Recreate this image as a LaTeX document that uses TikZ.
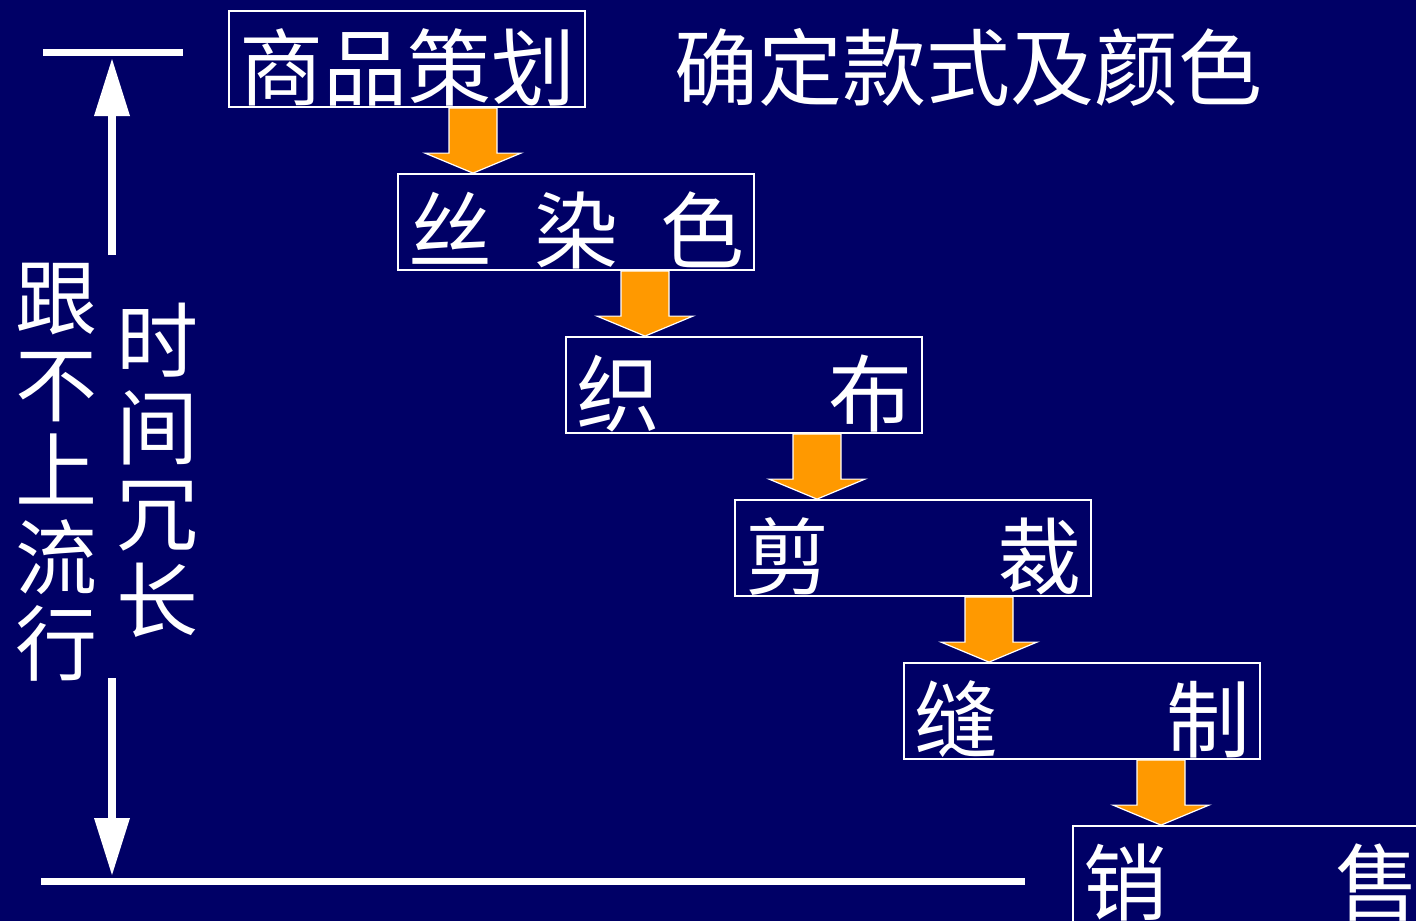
\documentclass[tikz,border=0pt]{standalone}
\usepackage{fontspec}
\newfontfamily\cjk{Noto Sans CJK SC}
\usetikzlibrary{calc}
\definecolor{bg}{HTML}{000066}
\definecolor{org}{HTML}{FF9900}
\tikzset{
  stagebox/.style={draw=white, line width=1.8pt, minimum width=356pt, minimum height=96pt,
    inner xsep=10pt, inner ysep=0pt, text=white, font=\cjk\fontsize{84}{84}\selectfont,
    text height=81pt, text depth=0pt},
  flowarrow/.style={fill=org, draw=white, line width=1.2pt, line join=miter},
  sidetext/.style={text=white, font=\cjk\fontsize{82}{86.5}\selectfont, align=center, inner sep=0pt},
  goaltext/.style={text=white, font=\cjk\fontsize{84}{84}\selectfont, inner sep=0pt},
  whitebar/.style={draw=white, line width=7pt},
  whiteshaft/.style={draw=white, line width=8pt},
}
\newcommand\stagearrow[3]{\draw[flowarrow] let \p1=(#1.south), \p2=(#2.north) in
  ({#3pt-24pt},\y1) -- ({#3pt+24pt},\y1) -- ({#3pt+24pt},\y2+20pt) -- ({#3pt+48pt},\y2+20pt)
  -- (#3pt,\y2) -- ({#3pt-48pt},\y2+20pt) -- ({#3pt-24pt},\y2+20pt) -- cycle;}
\begin{document}
\begin{tikzpicture}[x=1pt,y=-1pt]
\clip (0,0) rectangle (1416,921);
\fill[bg] (0,0) rectangle (1416,921);
% stage boxes
\node[stagebox] (b1) at (407,59)  {\makebox[336pt]{商\hfill 品\hfill 策\hfill 划}};
\node[stagebox] (b2) at (576,222) {\makebox[336pt]{丝\hfill 染\hfill 色}};
\node[stagebox] (b3) at (744,385) {\makebox[336pt]{织\hfill 布}};
\node[stagebox] (b4) at (913,548) {\makebox[336pt]{剪\hfill 裁}};
\node[stagebox] (b5) at (1082,711) {\makebox[336pt]{缝\hfill 制}};
\node[stagebox] (b6) at (1251,874) {\makebox[336pt]{销\hfill 售}};
% goal text
\node[goaltext, anchor=base west] (goal) at (674,99) {确定款式及颜色};
% orange block arrows
\stagearrow{b1}{b2}{473}
\stagearrow{b2}{b3}{645}
\stagearrow{b3}{b4}{817}
\stagearrow{b4}{b5}{989}
\stagearrow{b5}{b6}{1161}
% left scale
\coordinate (topL) at (43,52);
\coordinate (topR) at (183,52);
\coordinate (botL) at (41,881);
\coordinate (botR) at (1025,881);
\draw[whitebar] (topL) -- (topR);
\draw[whitebar] (botL) -- (botR);
\coordinate (upTail) at (112,255);
\coordinate (upTip) at (112,59);
\coordinate (downTail) at (112,678);
\coordinate (downTip) at (112,875);
\draw[whiteshaft] (upTail) -- (112,114);
\fill[white] (upTip) -- (94,116) -- (130,116) -- cycle;
\draw[whiteshaft] (downTail) -- (112,820);
\fill[white] (downTip) -- (94,818) -- (130,818) -- cycle;
% vertical texts
\node[sidetext, anchor=north] (lag) at (56,263) {跟\\不\\上\\流\\行};
\node[sidetext, anchor=north] (long) at (157,303) {时\\间\\冗\\长};
\end{tikzpicture}
\end{document}
